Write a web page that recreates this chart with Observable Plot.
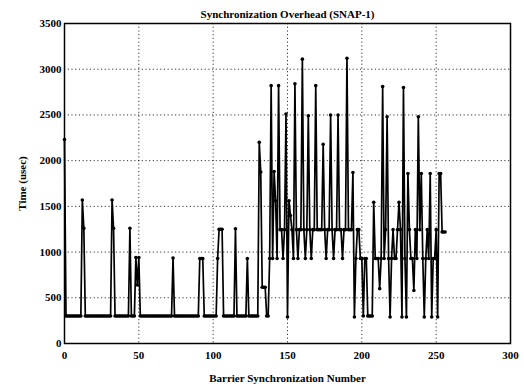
<!DOCTYPE html>
<html>
<head>
<meta charset="utf-8">
<script src="https://cdn.jsdelivr.net/npm/d3@7"></script>
<script src="https://cdn.jsdelivr.net/npm/@observablehq/plot@0.6"></script>
<style>
  html, body { margin: 0; padding: 0; background: #fff; }
</style>
</head>
<body>
<div id="chart"></div>
<script>
const title = "Synchronization Overhead (SNAP-1)";
const xLabel = "Barrier Synchronization Number";
const yLabel = "Time (usec)";
const xTicks = [0, 50, 100, 150, 200, 250, 300];
const yTicks = [0, 500, 1000, 1500, 2000, 2500, 3000, 3500];

// Overhead per barrier (usec), barrier numbers 0..256
const overhead = [
  2230, 300, 300, 300, 300, 300, 300, 300, 300, 300,
  300, 300, 1570, 1260, 300, 300, 300, 300, 300, 300,
  300, 300, 300, 300, 300, 300, 300, 300, 300, 300,
  300, 300, 1570, 1260, 300, 300, 300, 300, 300, 300,
  300, 300, 300, 300, 1260, 300, 300, 300, 940, 640,
  940, 300, 300, 300, 300, 300, 300, 300, 300, 300,
  300, 300, 300, 300, 300, 300, 300, 300, 300, 300,
  300, 300, 300, 935, 300, 300, 300, 300, 300, 300,
  300, 300, 300, 300, 300, 300, 300, 300, 300, 300,
  300, 930, 930, 930, 300, 300, 300, 300, 300, 300,
  300, 300, 300, 930, 1250, 1250, 1250, 300, 300, 300,
  300, 300, 300, 300, 300, 1255, 300, 300, 300, 300,
  300, 300, 300, 930, 300, 300, 300, 300, 300, 300,
  300, 2200, 1875, 615, 615, 615, 300, 300, 930, 2820,
  930, 1880, 1560, 930, 2820, 1245, 1245, 930, 1245, 2510,
  290, 1560, 1400, 1245, 930, 2840, 1245, 930, 1245, 1245,
  3110, 1245, 930, 1245, 2490, 1245, 930, 1245, 1245, 2820,
  1245, 1245, 1245, 1245, 2180, 1245, 930, 1245, 1245, 2500,
  1245, 930, 1245, 1245, 2500, 1245, 1245, 930, 1245, 1245,
  3120, 1245, 1245, 1245, 1870, 290, 930, 1245, 1245, 930,
  930, 300, 930, 930, 300, 300, 300, 300, 1545, 930,
  930, 930, 600, 930, 2810, 930, 1245, 2480, 930, 290,
  930, 1245, 930, 930, 1245, 1545, 1245, 290, 2800, 930,
  290, 1860, 1245, 930, 930, 580, 1245, 930, 2480, 1245,
  1860, 930, 290, 930, 1245, 930, 1860, 290, 930, 930,
  1245, 290, 1860, 1860, 1220, 1220, 1220
];

const data = overhead.map((v, i) => ({barrier: i, time: v}));

const font = "'Liberation Serif', 'DejaVu Serif', serif";

const chart = Plot.plot({
  width: 524,
  height: 392,
  marginLeft: 64,
  marginRight: 14,
  marginTop: 23,
  marginBottom: 49,
  style: {fontFamily: font, fontSize: "11px", fontWeight: "bold", color: "#000", background: "#fff"},
  x: {domain: [0, 300], ticks: xTicks},
  y: {domain: [0, 3500], ticks: yTicks},
  marks: [
    Plot.gridX(xTicks, {stroke: "#000", strokeOpacity: 1, strokeWidth: 0.8, strokeDasharray: "1.2,2.5"}),
    Plot.gridY(yTicks, {stroke: "#000", strokeOpacity: 1, strokeWidth: 0.8, strokeDasharray: "1.2,2.5"}),
    Plot.axisX({ticks: xTicks, tickFormat: d => String(d), tickSize: 0, tickPadding: 8, fontSize: 11, fontWeight: "bold",
      label: xLabel, labelAnchor: "center", labelArrow: "none", labelOffset: 38}),
    Plot.axisY({ticks: yTicks, tickFormat: d => String(d), tickSize: 0, tickPadding: 3, fontSize: 11, fontWeight: "bold",
      label: yLabel, labelAnchor: "center", labelArrow: "none", labelOffset: 46}),
    Plot.line(data, {x: "barrier", y: "time", stroke: "#000", strokeWidth: 1.7}),
    Plot.dot(data, {x: "barrier", y: "time", r: 1.8, fill: "#000", stroke: "none"}),
    Plot.frame({stroke: "#000", strokeWidth: 1.5}),
    Plot.text([title], {frameAnchor: "top", lineAnchor: "bottom", dy: -6, fontSize: 11, fontWeight: "bold", fill: "#000"})
  ]
});
document.getElementById("chart").appendChild(chart);
</script>
</body>
</html>
